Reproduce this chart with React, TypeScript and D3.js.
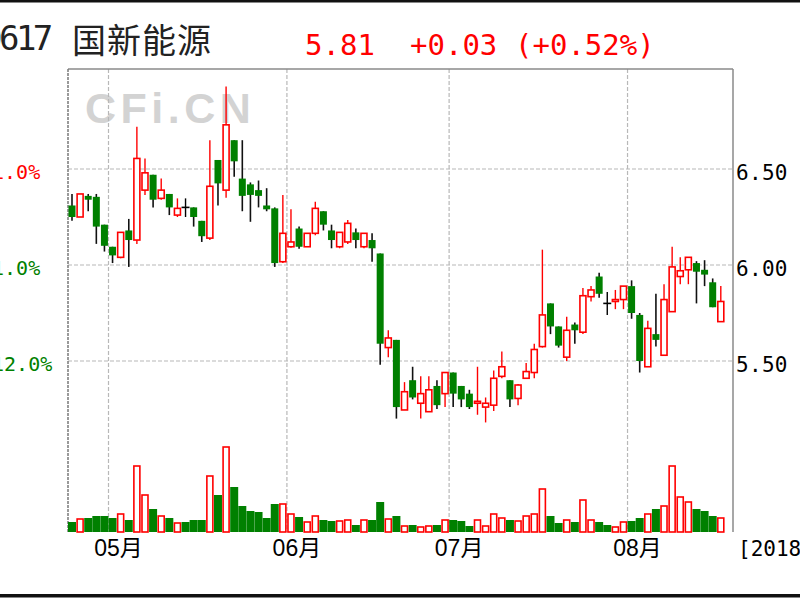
import React from 'react';
import * as d3 from 'd3';

const dates = [
  '2018-04-23','2018-04-24','2018-04-25','2018-04-26','2018-04-27',
  '2018-05-02','2018-05-03','2018-05-04','2018-05-07','2018-05-08','2018-05-09','2018-05-10','2018-05-11',
  '2018-05-14','2018-05-15','2018-05-16','2018-05-17','2018-05-18','2018-05-21','2018-05-22','2018-05-23',
  '2018-05-24','2018-05-25','2018-05-28','2018-05-29','2018-05-30','2018-05-31',
  '2018-06-01','2018-06-04','2018-06-05','2018-06-06','2018-06-07','2018-06-08','2018-06-11','2018-06-12',
  '2018-06-13','2018-06-14','2018-06-15','2018-06-19','2018-06-20','2018-06-21','2018-06-22','2018-06-25',
  '2018-06-26','2018-06-27','2018-06-28','2018-06-29',
  '2018-07-02','2018-07-03','2018-07-04','2018-07-05','2018-07-06','2018-07-09','2018-07-10','2018-07-11',
  '2018-07-12','2018-07-13','2018-07-16','2018-07-17','2018-07-18','2018-07-19','2018-07-20','2018-07-23',
  '2018-07-24','2018-07-25','2018-07-26','2018-07-27','2018-07-30','2018-07-31',
  '2018-08-01','2018-08-02','2018-08-03','2018-08-06','2018-08-07','2018-08-08','2018-08-09','2018-08-10',
  '2018-08-13','2018-08-14','2018-08-15','2018-08-16',
];

const opens = [
  6.31, 6.25, 6.36, 6.355, 6.21, 6.095, 6.04, 6.18, 6.13, 6.39,
  6.47, 6.347, 6.37, 6.26, 6.30, 6.30, 6.23, 6.14, 6.547, 6.39,
  6.65, 6.45, 6.42, 6.39, 6.31, 6.295, 6.017, 6.095, 6.19, 6.095,
  6.165, 6.28, 6.18, 6.095, 6.12, 6.17, 6.095, 6.13, 6.06, 5.57,
  5.61, 5.245, 5.40, 5.28, 5.236, 5.37, 5.33, 5.44, 5.37, 5.33,
  5.28, 5.26, 5.27, 5.42, 5.40, 5.305, 5.41, 5.44, 5.575, 5.80,
  5.68, 5.52, 5.69, 5.65, 5.835, 5.94, 5.80, 5.81, 5.82, 5.89,
  5.74, 5.47, 5.64, 5.53, 5.757, 5.94, 5.975, 6.01, 5.975, 5.91,
  5.705,
];
const highs = [
  6.37, 6.37, 6.37, 6.37, 6.21, 6.095, 6.17, 6.24, 6.72, 6.555,
  6.47, 6.45, 6.37, 6.347, 6.347, 6.30, 6.23, 6.65, 6.547, 6.93,
  6.65, 6.65, 6.43, 6.44, 6.40, 6.30, 6.365, 6.29, 6.20, 6.165,
  6.33, 6.28, 6.21, 6.17, 6.234, 6.19, 6.165, 6.165, 6.06, 5.66,
  5.61, 5.39, 5.47, 5.42, 5.42, 5.40, 5.44, 5.44, 5.37, 5.35,
  5.47, 5.31, 5.45, 5.55, 5.40, 5.38, 5.49, 5.59, 6.08, 5.80,
  5.68, 5.73, 5.70, 5.88, 5.89, 5.96, 5.86, 5.87, 5.89, 5.92,
  5.75, 5.71, 5.85, 5.90, 6.095, 6.04, 6.04, 6.02, 6.025, 5.93,
  5.89,
];
const lows = [
  6.23, 6.25, 6.28, 6.11, 6.07, 6.01, 6.035, 5.99, 6.11, 6.365,
  6.30, 6.34, 6.26, 6.25, 6.25, 6.20, 6.12, 6.13, 6.31, 6.35,
  6.46, 6.28, 6.225, 6.30, 6.28, 5.99, 6.01, 6.09, 6.085, 6.095,
  6.155, 6.18, 6.087, 6.087, 6.11, 6.087, 6.087, 6.017, 5.48, 5.52,
  5.20, 5.245, 5.30, 5.20, 5.236, 5.25, 5.26, 5.26, 5.26, 5.25,
  5.22, 5.18, 5.24, 5.41, 5.26, 5.27, 5.41, 5.41, 5.57, 5.64,
  5.57, 5.50, 5.59, 5.64, 5.81, 5.83, 5.74, 5.77, 5.77, 5.72,
  5.44, 5.47, 5.575, 5.53, 5.757, 5.90, 5.90, 5.80, 5.89, 5.78,
  5.705,
];
const closes = [
  6.25, 6.37, 6.34, 6.20, 6.10, 6.05, 6.17, 6.13, 6.555, 6.48,
  6.34, 6.39, 6.30, 6.295, 6.30, 6.25, 6.15, 6.41, 6.425, 6.73,
  6.54, 6.36, 6.365, 6.36, 6.29, 6.01, 6.165, 6.12, 6.095, 6.165,
  6.295, 6.21, 6.13, 6.17, 6.217, 6.13, 6.165, 6.087, 5.59, 5.62,
  5.26, 5.34, 5.31, 5.33, 5.35, 5.27, 5.44, 5.33, 5.30, 5.26,
  5.29, 5.28, 5.41, 5.47, 5.30, 5.375, 5.445, 5.56, 5.74, 5.68,
  5.58, 5.66, 5.66, 5.84, 5.87, 5.85, 5.80, 5.82, 5.89, 5.75,
  5.50, 5.67, 5.61, 5.82, 5.99, 5.97, 6.04, 5.965, 5.95, 5.78,
  5.81,
];
const volumes = [
  10, 13, 14, 16, 16, 14, 18, 12, 66, 37,
  23, 16, 14, 9, 10, 12, 12, 56, 37, 85,
  45, 26, 21, 20, 14, 28, 28, 18, 15, 10,
  16, 12, 11, 11, 12, 7, 12, 12, 30, 13,
  16, 6, 7, 5, 6, 7, 12, 12, 11, 6,
  12, 6, 18, 14, 12, 11, 16, 18, 43, 16,
  9, 12, 10, 32, 12, 10, 7, 5, 10, 11,
  14, 18, 23, 26, 66, 35, 30, 23, 21, 16,
  14,
];

const priceTicks = [5.5, 6.0, 6.5];
const priceTickLabels = ['5.50', '6.00', '6.50'];
const pctTickLabels = ['-12.0%', '-1.0%', '11.0%'];
const pctTickColors = ['#008000', '#008000', '#ff0000'];
const monthLabels = ['05月', '06月', '07月', '08月'];

const stockCode = '600617';
const stockName = '国新能源';
const lastPrice = '5.81';
const change = '+0.03';
const changePct = '(+0.52%)';
const dateLabel = '[2018/08/16]';

const RED = '#ff0000';
const GREEN = '#008000';
const MONO = "'DejaVu Sans Mono', monospace";
const CJK = "'Noto Sans CJK SC', sans-serif";

export default function App() {
  const left = 68, right = 733, top = 69, volBase = 532;
  const n = dates.length;
  const x = d3.scaleLinear().domain([0, n - 1]).range([72, 72 + 8.11 * (n - 1)]);
  const y = d3.scaleLinear().domain([5.5, 6.5]).range([361, 169]);
  const vy = d3.scaleLinear().domain([0, d3.max(volumes) as number]).range([volBase, 447]);
  const bw = 6;

  const monthStarts: number[] = [];
  for (let i = 1; i < n; i++) {
    if (dates[i].slice(5, 7) !== dates[i - 1].slice(5, 7)) monthStarts.push(i);
  }

  return (
    <svg width={800} height={600} style={{ position: 'absolute', left: 0, top: 0, background: '#fff' }}>
      <rect x={0} y={0} width={800} height={600} fill="#fff" />
      <rect x={0} y={0} width={800} height={2.5} fill="#111" />
      <rect x={0} y={594} width={800} height={3.5} fill="#111" />

      {/* watermark */}
      <text x={85} y={123} fontFamily="'Liberation Sans', Arial, sans-serif" fontWeight="bold"
        fontSize={43} letterSpacing={4.5} fill="#d3d3d3">CFi.CN</text>

      {/* grid */}
      {priceTicks.map((p, k) => (
        <line key={'h' + k} x1={left} x2={right} y1={y(p)} y2={y(p)} stroke="#b8b8b8" strokeWidth={1.2} strokeDasharray="4,2" />
      ))}
      {monthStarts.map((i, k) => (
        <line key={'v' + k} x1={x(i - 0.5)} x2={x(i - 0.5)} y1={top} y2={volBase} stroke="#b8b8b8" strokeWidth={1.2} strokeDasharray="4,2" />
      ))}
      {/* frame */}
      <line x1={left} x2={right} y1={top} y2={top} stroke="#8a8a8a" strokeWidth={1.5} />
      <line x1={left} x2={left} y1={top} y2={volBase} stroke="#7a7a7a" strokeWidth={1.5} strokeDasharray="3,1" />
      <line x1={right} x2={right} y1={top} y2={volBase} stroke="#8a8a8a" strokeWidth={1.5} />

      {/* volume */}
      {volumes.map((v, i) => {
        const up = closes[i] > opens[i];
        const cx = x(i);
        return up ? (
          <rect key={'vol' + i} x={cx - 3} y={vy(v)} width={6} height={volBase - vy(v)} fill="#fff" stroke={RED} strokeWidth={1.6} />
        ) : (
          <rect key={'vol' + i} x={cx - 4} y={vy(v)} width={8} height={volBase - vy(v)} fill={GREEN} />
        );
      })}

      {/* candles */}
      {dates.map((d, i) => {
        const o = opens[i], c = closes[i], h = highs[i], l = lows[i];
        const cx = x(i);
        if (c > o) {
          return (
            <g key={'c' + i}>
              <line x1={cx} x2={cx} y1={y(h)} y2={y(l)} stroke={RED} strokeWidth={1.4} />
              <rect x={cx - bw / 2} y={y(c)} width={bw} height={Math.max(1, y(o) - y(c))} fill="#fff" stroke={RED} strokeWidth={1.6} />
            </g>
          );
        }
        if (c === o) {
          return (
            <g key={'c' + i}>
              <line x1={cx} x2={cx} y1={y(h)} y2={y(l)} stroke="#000" strokeWidth={1.4} />
              <line x1={cx - bw / 2 - 1} x2={cx + bw / 2 + 1} y1={y(c)} y2={y(c)} stroke="#000" strokeWidth={1.6} />
            </g>
          );
        }
        return (
          <g key={'c' + i}>
            <line x1={cx} x2={cx} y1={y(h)} y2={y(l)} stroke="#111" strokeWidth={1.6} />
            <rect x={cx - bw / 2 - 0.5} y={y(o)} width={bw + 1} height={Math.max(1.5, y(c) - y(o))} fill={GREEN} />
          </g>
        );
      })}

      {/* right axis */}
      {priceTicks.map((p, k) => (
        <text key={'rt' + k} x={736} y={y(p) + 10.5} fontFamily={MONO} fontSize={21} letterSpacing={0.3} fill="#000">{priceTickLabels[k]}</text>
      ))}
      {/* left percentage axis */}
      {priceTicks.map((p, k) => (
        <text key={'lt' + k} x={-20} y={y(p) + 10} fontFamily={MONO} fontSize={20} fill={pctTickColors[k]}>{pctTickLabels[k]}</text>
      ))}

      {/* month labels */}
      {monthStarts.map((i, k) => (
        <text key={'m' + k} x={x(i - 0.5) + 10} y={556} textAnchor="middle" fontFamily={"'Liberation Sans', " + CJK} fontSize={23} fill="#000">{monthLabels[k]}</text>
      ))}
      <text x={738} y={556} fontFamily={MONO} fontSize={21} fill="#000">{dateLabel}</text>

      {/* header */}
      <text x={-52} y={50} fontFamily={MONO} fontSize={34} letterSpacing={-3.5} fill="#222">{stockCode}</text>
      <text x={72} y={53} fontFamily={CJK} fontSize={34} letterSpacing={1} fill="#222">{stockName}</text>
      <text x={305} y={55} fontFamily={MONO} fontSize={29} fill={RED}>{lastPrice}</text>
      <text x={410} y={55} fontFamily={MONO} fontSize={29} fill={RED}>{change}</text>
      <text x={515} y={55} fontFamily={MONO} fontSize={29} fill={RED}>{changePct}</text>
    </svg>
  );
}
